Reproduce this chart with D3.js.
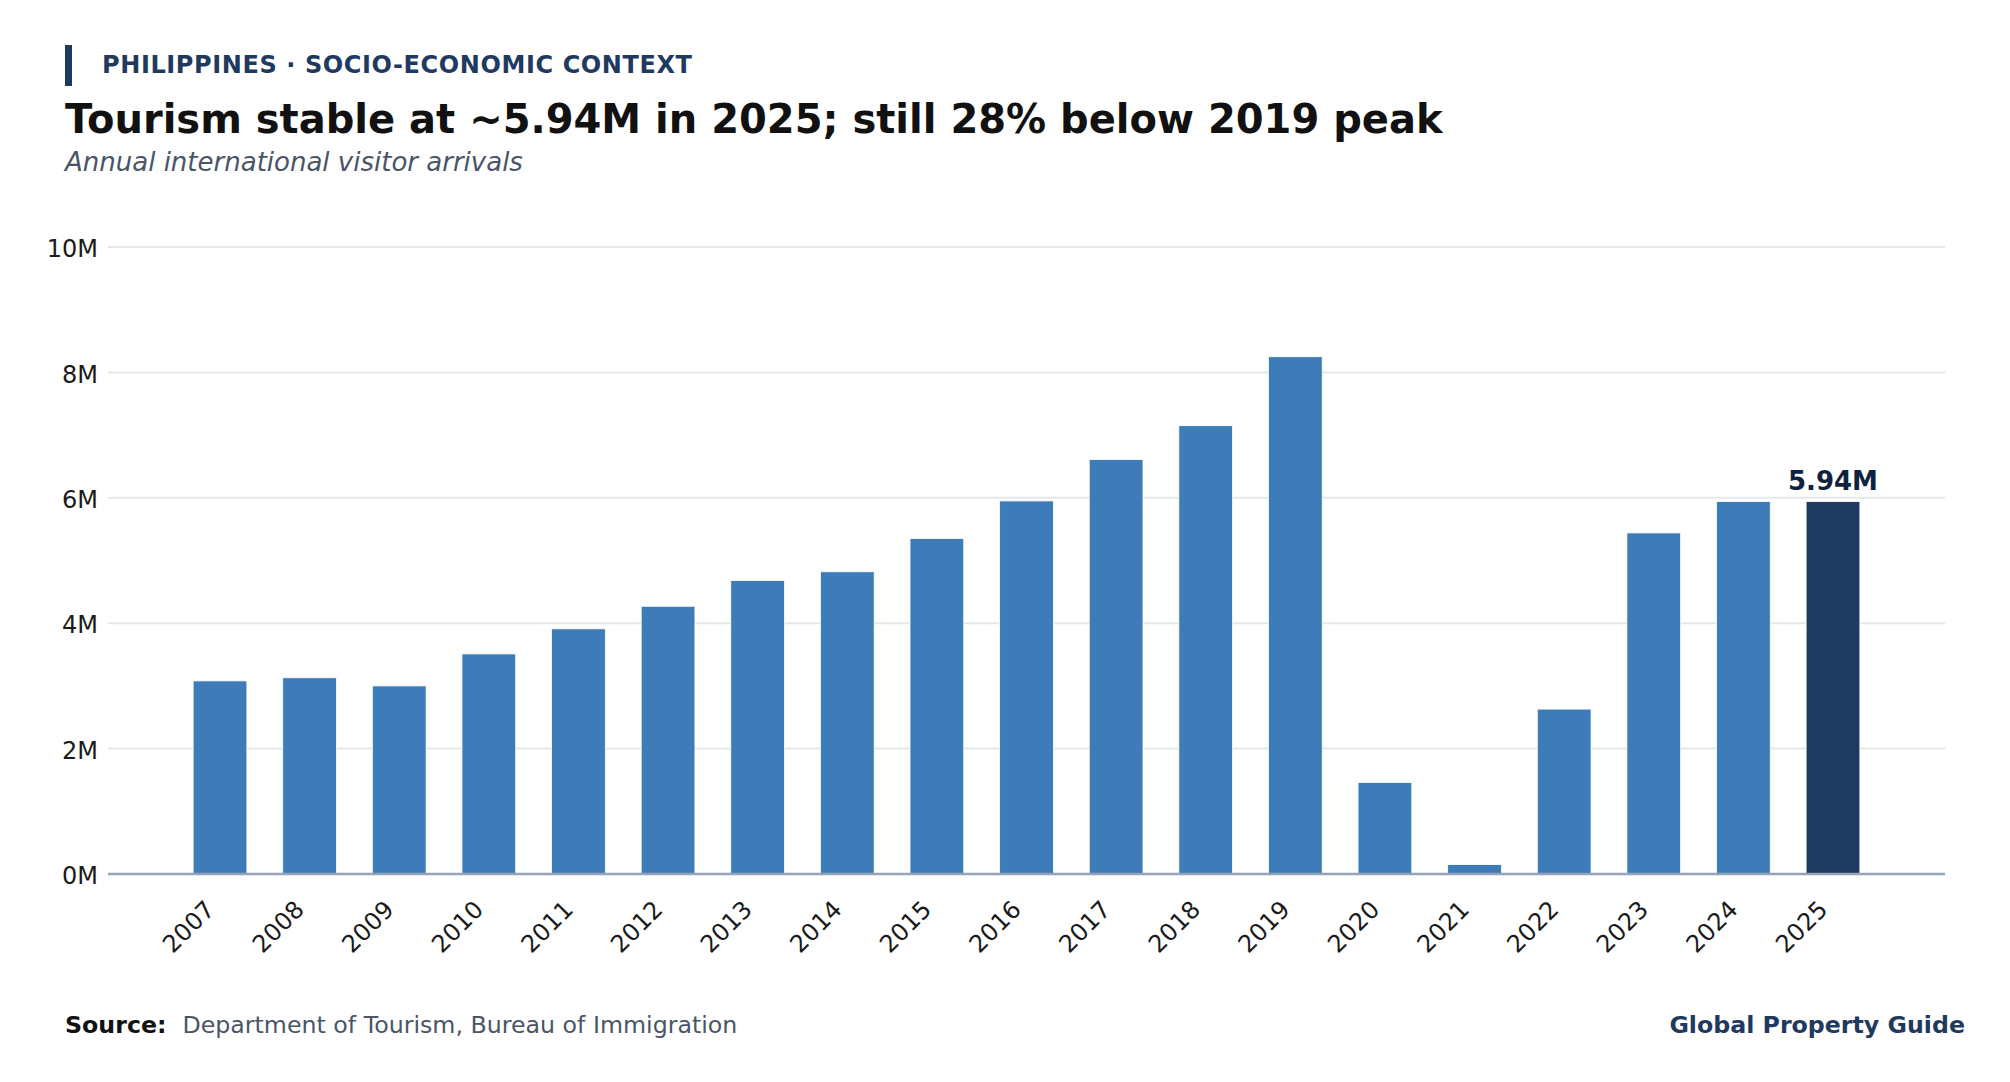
<!DOCTYPE html>
<html lang="en">
<head>
<meta charset="UTF-8">
<title>Philippines tourism arrivals</title>
<script src="https://d3js.org/d3.v7.min.js"></script>
<style>
    body { margin: 0; padding: 0; background: #fff; font-family: "DejaVu Sans", sans-serif; }
    svg { display: block; }
</style>
</head>
<body>
<div id="chart"></div>
<script>
    // data (millions of arrivals)
    const years = ["2007", "2008", "2009", "2010", "2011", "2012", "2013", "2014", "2015", "2016",
        "2017", "2018", "2019", "2020", "2021", "2022", "2023", "2024", "2025"];
    const arrivals = [3.08, 3.13, 3.00, 3.51, 3.91, 4.27, 4.68, 4.82, 5.35, 5.95,
        6.61, 7.15, 8.25, 1.46, 0.15, 2.63, 5.44, 5.94, 5.94];
    const yTicks = [0, 2, 4, 6, 8, 10];
    const highlightYear = "2025";
    const highlightLabel = "5.94M";

    const width = 2010, height = 1082;
    const margin = { top: 247, right: 65, bottom: 208, left: 108 };

    const svg = d3.select("#chart").append("svg")
        .attr("width", width)
        .attr("height", height);

    // header
    svg.append("rect")
        .attr("x", 65).attr("y", 45)
        .attr("width", 7).attr("height", 41)
        .attr("fill", "#1f3a5f");

    svg.append("text")
        .attr("x", 102).attr("y", 73)
        .attr("font-size", 24).attr("font-weight", "bold")
        .attr("fill", "#1f3a5f").attr("letter-spacing", 0.6)
        .text("PHILIPPINES · SOCIO-ECONOMIC CONTEXT");

    svg.append("text")
        .attr("x", 65).attr("y", 133)
        .attr("font-size", 40).attr("font-weight", "bold")
        .attr("fill", "#111111")
        .text("Tourism stable at ~5.94M in 2025; still 28% below 2019 peak");

    svg.append("text")
        .attr("x", 65).attr("y", 171)
        .attr("font-size", 26).attr("font-style", "italic")
        .attr("fill", "#4a5568")
        .text("Annual international visitor arrivals");

    // scales
    const x = d3.scaleBand()
        .domain(years)
        .range([margin.left, width - margin.right])
        .paddingInner(0.4)
        .paddingOuter(0.95);

    const y = d3.scaleLinear()
        .domain([0, 10])
        .range([height - margin.bottom, margin.top]);

    // gridlines
    svg.append("g")
        .selectAll("line")
        .data(yTicks.filter(d => d > 0))
        .enter().append("line")
        .attr("x1", margin.left).attr("x2", width - margin.right)
        .attr("y1", d => y(d)).attr("y2", d => y(d))
        .attr("stroke", "#e5e7eb").attr("stroke-width", 2);

    // y axis labels
    const yAxis = svg.append("g")
        .attr("transform", `translate(${margin.left},0)`)
        .call(d3.axisLeft(y).tickValues(yTicks).tickSize(0).tickPadding(10).tickFormat(d => d + "M"));
    yAxis.select(".domain").remove();
    yAxis.selectAll("text")
        .attr("font-family", "DejaVu Sans")
        .attr("font-size", 24)
        .attr("fill", "#1a1a1a")
        .attr("y", 2);

    // bars
    svg.append("g")
        .selectAll("rect")
        .data(years)
        .enter().append("rect")
        .attr("x", d => x(d))
        .attr("width", x.bandwidth())
        .attr("y", (d, i) => y(arrivals[i]))
        .attr("height", (d, i) => y(0) - y(arrivals[i]))
        .attr("fill", d => d === highlightYear ? "#1f3a5f" : "#3d7cb8")
        .attr("stroke", "#ffffff")
        .attr("stroke-width", 0.8);

    // value label on highlighted bar
    const hi = years.indexOf(highlightYear);
    svg.append("text")
        .attr("x", x(highlightYear) + x.bandwidth() / 2)
        .attr("y", y(arrivals[hi]) - 12)
        .attr("text-anchor", "middle")
        .attr("font-size", 26).attr("font-weight", "bold")
        .attr("fill", "#0f2240")
        .text(highlightLabel);

    // x axis
    const xAxis = svg.append("g")
        .attr("transform", `translate(0,${y(0)})`)
        .call(d3.axisBottom(x).tickSize(0).tickPadding(0));
    xAxis.select(".domain")
        .attr("d", `M${margin.left},0H${width - margin.right}`)
        .attr("stroke", "#94a3b8").attr("stroke-width", 2.5);
    xAxis.selectAll("text")
        .attr("font-family", "DejaVu Sans")
        .attr("font-size", 24)
        .attr("fill", "#1a1a1a")
        .attr("text-anchor", "end")
        .attr("dy", null)
        .attr("transform", "translate(-4,37) rotate(-45)");

    // footer
    const foot = svg.append("text")
        .attr("x", 65).attr("y", 1033)
        .attr("font-size", 23.7);
    foot.append("tspan").attr("font-weight", "bold").attr("fill", "#111111").text("Source:");
    foot.append("tspan").attr("dx", 16).attr("fill", "#4a5568").text("Department of Tourism, Bureau of Immigration");

    svg.append("text")
        .attr("x", 1965).attr("y", 1033)
        .attr("text-anchor", "end")
        .attr("font-size", 23.7).attr("font-weight", "bold")
        .attr("fill", "#1f3a5f")
        .text("Global Property Guide");
</script>
</body>
</html>
